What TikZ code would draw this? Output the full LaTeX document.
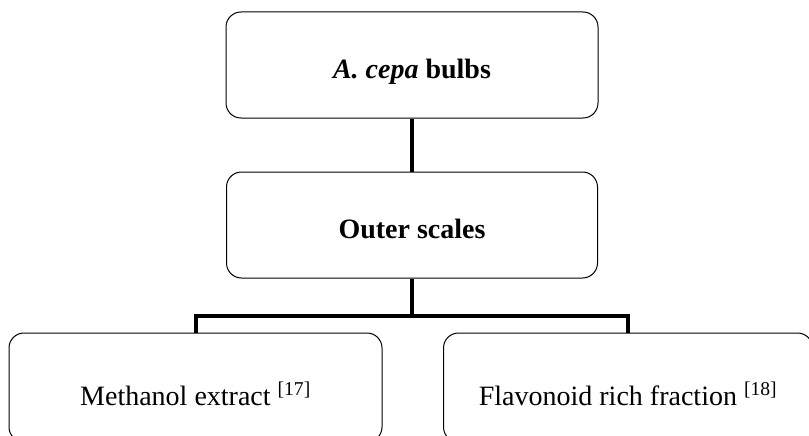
\documentclass[tikz,border=0pt]{standalone}
\usepackage{fontspec}
\setmainfont{Liberation Serif}
\usepackage{tikz}

\begin{document}
\begin{tikzpicture}[x=1pt,y=-1pt]
		\useasboundingbox (0,0) rectangle (809,436);
		\clip (0,0) rectangle (809,436);
		\begin{scope}[every node/.style={rectangle,rounded corners=15pt,draw,line width=1pt,
		              minimum height=106pt,inner sep=0pt,text height=26pt,text depth=0pt,
		              font=\fontsize{28}{34}\selectfont}]
		    	\node[minimum width=372pt] (bulbs) at (412,65) {\textbf{\textit{A. cepa}} \textbf{bulbs}};
			\node[minimum width=371pt] (scales) at (412,225) {\textbf{Outer scales}};
		    	\node[minimum width=373pt,minimum height=109pt,text height=35pt] (extract) at (195.5,387.5) {Methanol extract \textsuperscript{[17]}};
			\node[minimum width=369pt,minimum height=109pt,text height=35pt] (fraction) at (628,387.5) {Flavonoid rich fraction \textsuperscript{[18]}};
		\end{scope}
		
		\begin{scope}[every path/.style={draw=black,line width=4pt}]
			\path (bulbs) -- (scales);
			\path (scales.south) -- ++(0,37) coordinate (fork);
			\path (fork) -| (extract);
			\path (fork) -| (fraction);
		\end{scope}
		\end{tikzpicture}
\end{document}
